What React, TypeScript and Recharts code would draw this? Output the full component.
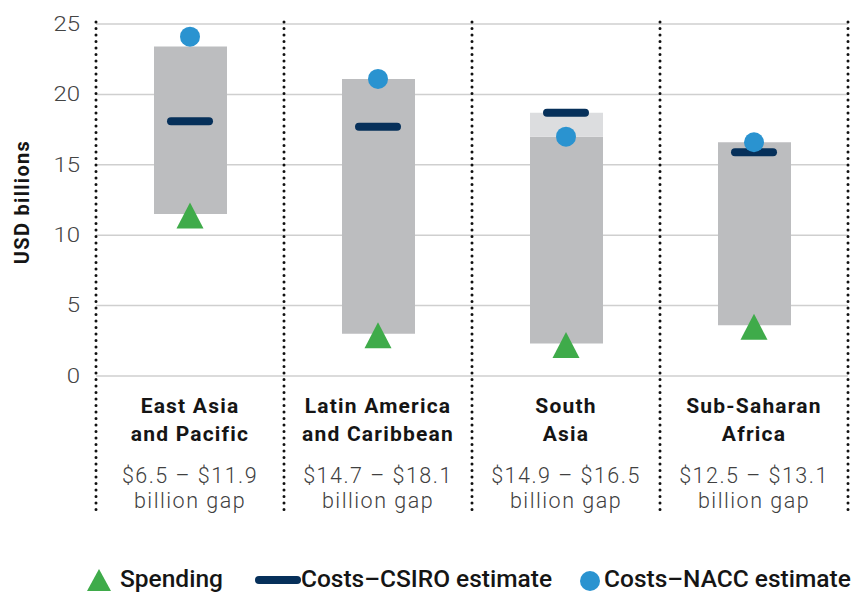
import {
  ComposedChart,
  Bar,
  Scatter,
  XAxis,
  YAxis,
  CartesianGrid,
  Legend,
  Label,
} from "recharts";

// Regions and their two-line axis labels
const regions = [
  "East Asia and Pacific",
  "Latin America and Caribbean",
  "South Asia",
  "Sub-Saharan Africa",
];
const nameLine1 = ["East Asia", "Latin America", "South", "Sub-Saharan"];
const nameLine2 = ["and Pacific", "and Caribbean", "Asia", "Africa"];
const gapLine1 = ["$6.5 – $11.9", "$14.7 – $18.1", "$14.9 – $16.5", "$12.5 – $13.1"];
const gapLine2 = ["billion gap", "billion gap", "billion gap", "billion gap"];

// Gray range boxes (USD billions)
const rangeLow = [11.5, 3.0, 2.3, 3.6];
const rangeHigh = [23.4, 21.1, 17.0, 16.6];
const rangeTop = [23.4, 21.1, 18.7, 16.6];

// Markers
const spending = [11.4, 2.9, 2.2, 3.5];
const csiro = [18.1, 17.7, 18.7, 15.9];
const nacc = [24.1, 21.1, 17.0, 16.6];

const yTicks = [0, 5, 10, 15, 20, 25];

const CHART_W = 854;
const CHART_H = 593;
const MARGIN_TOP = 24;
const MARGIN_RIGHT = 6;
const Y_AXIS_W = 96;
const X_AXIS_H = 150;
const LEGEND_H = 67;
const PLOT_H = CHART_H - MARGIN_TOP - X_AXIS_H - LEGEND_H;
const PLOT_W = CHART_W - Y_AXIS_W - MARGIN_RIGHT;

const GREEN = "#3fab4a";
const NAVY = "#06305a";
const BLUE = "#2a93d0";
const FONT = "Roboto, 'Noto Sans', sans-serif";

const data = regions.map((region, i) => ({
  region,
  base: rangeLow[i],
  range: rangeHigh[i] - rangeLow[i],
  extra: rangeTop[i] - rangeHigh[i],
  spending: spending[i],
  csiro: csiro[i],
  nacc: nacc[i],
}));

const dotted = {
  stroke: "#111",
  strokeWidth: 3,
  strokeDasharray: "0 6.5",
  strokeLinecap: "round" as const,
};

function RegionTick(props: any) {
  const { x, y, payload } = props;
  const i = payload.index ?? props.index;
  const half = payload.offset || PLOT_W / regions.length / 2;
  const top = y - PLOT_H - 2;
  const bottom = y + 138;
  return (
    <g>
      <line x1={x - half} x2={x - half} y1={top} y2={bottom} {...dotted} />
      {i === regions.length - 1 && (
        <line x1={x + half} x2={x + half} y1={top} y2={bottom} {...dotted} />
      )}
      <text
        textAnchor="middle"
        fontFamily={FONT}
        fontSize={21}
        fontWeight={700}
        letterSpacing={1.2}
        fill="#151515"
      >
        <tspan x={x} y={y + 37}>{nameLine1[i]}</tspan>
        <tspan x={x} y={y + 65}>{nameLine2[i]}</tspan>
      </text>
      <text
        textAnchor="middle"
        fontFamily={FONT}
        fontSize={21.5}
        fontWeight={300}
        letterSpacing={1.5}
        fill="#404040"
      >
        <tspan x={x} y={y + 107}>{gapLine1[i]}</tspan>
        <tspan x={x} y={y + 132}>{gapLine2[i]}</tspan>
      </text>
    </g>
  );
}

function ValueTick(props: any) {
  const { x, y, payload } = props;
  return (
    <text
      x={x}
      y={y}
      textAnchor="end"
      dominantBaseline="central"
      fontFamily={FONT}
      fontSize={20}
      fontWeight={300}
      fill="#444"
      transform={`translate(${x} 0) scale(1.2 1) translate(${-x} 0)`}
    >
      {payload.value}
    </text>
  );
}

const TriangleShape = (p: any) => (
  <polygon
    points={`${p.cx},${p.cy - 13} ${p.cx - 13.5},${p.cy + 13} ${p.cx + 13.5},${p.cy + 13}`}
    fill={GREEN}
  />
);
const DashShape = (p: any) => (
  <rect x={p.cx - 23} y={p.cy - 4} width={46} height={8} rx={4} fill={NAVY} />
);
const CircleShape = (p: any) => <circle cx={p.cx} cy={p.cy} r={10} fill={BLUE} />;

function LegendContent() {
  const text = {
    fontFamily: FONT,
    fontSize: 24.5,
    fontWeight: 500,
    color: "#151515",
    lineHeight: "26px",
    whiteSpace: "nowrap" as const,
    flexShrink: 0,
  };
  const icon = { flexShrink: 0 };
  return (
    <div
      style={{
        height: LEGEND_H,
        width: 900,
        display: "flex",
        flexWrap: "nowrap",
        alignItems: "flex-end",
        paddingLeft: 86,
        paddingBottom: 1,
        boxSizing: "border-box",
      }}
    >
      <svg width={26} height={24} style={{ ...icon, marginRight: 8 }}>
        <polygon points="13,1 1,23 25,23" fill={GREEN} />
      </svg>
      <span style={{ ...text, marginRight: 32 }}>Spending</span>
      <svg width={46} height={24} style={icon}>
        <rect x={0} y={8} width={46} height={8} rx={4} fill={NAVY} />
      </svg>
      <span style={{ ...text, marginRight: 27 }}>Costs–CSIRO estimate</span>
      <svg width={22} height={24} style={{ ...icon, marginRight: 3 }}>
        <circle cx={11} cy={13} r={10} fill={BLUE} />
      </svg>
      <span style={text}>Costs–NACC estimate</span>
    </div>
  );
}

export default function App() {
  return (
    <div style={{ position: "fixed", left: 0, top: 0, background: "#fff", overflow: "hidden" }}>
      <ComposedChart
        width={CHART_W}
        height={CHART_H}
        data={data}
        margin={{ top: MARGIN_TOP, right: MARGIN_RIGHT, left: 0, bottom: 0 }}
      >
        <CartesianGrid vertical={false} stroke="#cfcfcf" strokeWidth={1.5} />
        <XAxis
          dataKey="region"
          height={X_AXIS_H}
          axisLine={false}
          tickLine={false}
          tickSize={0}
          tickMargin={0}
          interval={0}
          tick={<RegionTick />}
        />
        <YAxis
          width={Y_AXIS_W}
          domain={[0, 25]}
          ticks={yTicks}
          axisLine={false}
          tickLine={false}
          tickSize={0}
          tickMargin={16}
          tick={<ValueTick />}
        >
          <Label
            content={(p: any) => {
              const vb = p.viewBox;
              const cx = vb.x + 22;
              const cy = vb.y + vb.height / 2 + 2;
              return (
                <text
                  x={cx}
                  y={cy}
                  transform={`rotate(-90 ${cx} ${cy})`}
                  textAnchor="middle"
                  dominantBaseline="central"
                  fontFamily={FONT}
                  fontSize={20}
                  fontWeight={700}
                  letterSpacing={1.3}
                  fill="#151515"
                >
                  USD billions
                </text>
              );
            }}
          />
        </YAxis>
        <Legend
          verticalAlign="bottom"
          content={<LegendContent />}
          wrapperStyle={{ height: LEGEND_H, width: CHART_W, left: 0, overflow: "visible" }}
        />
        <Bar dataKey="base" stackId="r" fill="transparent" barSize={73} isAnimationActive={false} legendType="none" />
        <Bar dataKey="range" stackId="r" fill="#bcbdbf" barSize={73} isAnimationActive={false} legendType="none" />
        <Bar dataKey="extra" stackId="r" fill="#dcdddf" barSize={73} isAnimationActive={false} legendType="none" />
        <Scatter dataKey="spending" shape={TriangleShape} isAnimationActive={false} />
        <Scatter dataKey="csiro" shape={DashShape} isAnimationActive={false} />
        <Scatter dataKey="nacc" shape={CircleShape} isAnimationActive={false} />
      </ComposedChart>
    </div>
  );
}
